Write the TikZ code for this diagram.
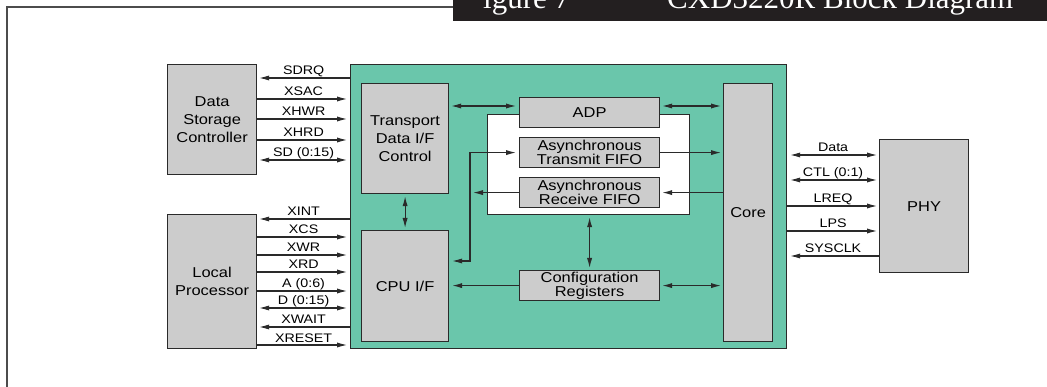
\documentclass[tikz,border=0pt]{standalone}
\usepackage{fontspec}
\usetikzlibrary{arrows.meta}
\newfontfamily\lbl[FakeStretch=1.15]{Liberation Sans}
\newfontfamily\ttlfont{Liberation Serif}
\definecolor{boxgrey}{HTML}{CCCCCC}
\definecolor{teal1}{HTML}{6AC6AB}
\definecolor{ln}{HTML}{2A2A2A}
\definecolor{barblack}{HTML}{231F20}
\tikzset{
  gbox/.style={draw=ln, fill=boxgrey, line width=1.2pt, inner sep=0pt, anchor=north west, align=center,
    font={\lbl\fontsize{14.3}{18}\selectfont}},
  tightbox/.style={gbox, font={\lbl\fontsize{14.3}{12.5}\selectfont}},
  sig/.style={draw=ln, line width=1.1pt},
  lab/.style={anchor=base, yshift=3pt, inner sep=0pt, font={\lbl\fontsize{12.4}{14}\selectfont}},
  >={Latex[length=10pt,width=5.2pt]}
}
\begin{document}
\begin{tikzpicture}[x=1pt,y=-1pt]
\useasboundingbox (0,0) rectangle (1047,387);
% frame
\draw[draw=black!70, line width=2pt] (7,387) -- (7,7) -- (453,7);
\fill[barblack] (453,-5) rectangle (1047,21);
\node[anchor=base west, text=white, inner sep=0pt, font={\ttlfont\fontsize{31}{34}\selectfont}] (t1) at (483,9) {igure 7};
\node[anchor=base west, text=white, inner sep=0pt, font={\ttlfont\fontsize{31}{34}\selectfont}] (t2) at (667,9) {CXD3220R Block Diagram};

% outer blocks
\node[gbox, minimum width=89pt, minimum height=110pt] (dsc) at (167,64) {Data\\Storage\\Controller};
\node[gbox, minimum width=89pt, minimum height=134pt] (lp) at (167,214) {Local\\Processor};
\node[gbox, minimum width=89pt, minimum height=133pt] (phy) at (879,139) {PHY};

% teal chip
\node[draw=ln, fill=teal1, line width=1.2pt, inner sep=0pt, anchor=north west, minimum width=436pt, minimum height=284pt] (teal) at (350,64) {};
\node[draw=ln, fill=white, line width=1.2pt, inner sep=0pt, anchor=north west, minimum width=202pt, minimum height=100pt] (wb) at (487,114) {};

\node[gbox, minimum width=87pt, minimum height=110pt] (tdc) at (361,83) {Transport\\Data I/F\\Control};
\node[gbox, minimum width=87pt, minimum height=111pt] (cpu) at (361,230) {CPU I/F};
\node[gbox, minimum width=140pt, minimum height=30pt] (adp) at (519,97) {ADP};
\node[tightbox, minimum width=140pt, minimum height=30pt] (tx) at (519,137) {Asynchronous\\Transmit FIFO};
\node[tightbox, minimum width=140pt, minimum height=30pt] (rx) at (519,177) {Asynchronous\\Receive FIFO};
\node[tightbox, minimum width=140pt, minimum height=30pt] (cfg) at (519,270) {Configuration\\Registers};
\node[gbox, minimum width=49pt, minimum height=258pt] (core) at (723,83) {Core};

% left signals: data storage controller
\draw[sig, <-, shorten <=2pt] (dsc.east|-0,78) -- (teal.west|-0,78) node[lab, midway] {SDRQ};
\draw[sig, ->, shorten >=3pt] (dsc.east|-0,99) -- (teal.west|-0,99) node[lab, midway] {XSAC};
\draw[sig, ->, shorten >=3pt] (dsc.east|-0,119) -- (teal.west|-0,119) node[lab, midway] {XHWR};
\draw[sig, ->, shorten >=3pt] (dsc.east|-0,140) -- (teal.west|-0,140) node[lab, midway] {XHRD};
\draw[sig, <->, shorten <=2pt, shorten >=3pt] (dsc.east|-0,160) -- (teal.west|-0,160) node[lab, midway] {SD (0:15)};

% left signals: local processor
\draw[sig, <-, shorten <=2pt] (lp.east|-0,219) -- (teal.west|-0,219) node[lab, midway] {XINT};
\draw[sig, ->, shorten >=3pt] (lp.east|-0,237) -- (teal.west|-0,237) node[lab, midway] {XCS};
\draw[sig, ->, shorten >=3pt] (lp.east|-0,255) -- (teal.west|-0,255) node[lab, midway] {XWR};
\draw[sig, ->, shorten >=3pt] (lp.east|-0,272) -- (teal.west|-0,272) node[lab, midway] {XRD};
\draw[sig, ->, shorten >=3pt] (lp.east|-0,291) -- (teal.west|-0,291) node[lab, midway] {A (0:6)};
\draw[sig, <->, shorten <=2pt, shorten >=3pt] (lp.east|-0,308) -- (teal.west|-0,308) node[lab, midway] {D (0:15)};
\draw[sig, <-, shorten <=2pt] (lp.east|-0,327) -- (teal.west|-0,327) node[lab, midway] {XWAIT};
\draw[sig, ->, shorten >=3pt] (lp.east|-0,345) -- (teal.west|-0,345) node[lab, midway] {XRESET};

% internal
\draw[sig, <->, shorten <=2pt, shorten >=3pt] (tdc.east|-0,106) -- (adp.west|-0,106);
\draw[sig, <->, shorten <=2pt, shorten >=2pt] (adp.east|-0,106) -- (core.west|-0,106);
\draw[sig, ->, shorten >=2pt] (tx.east) -- (core.west|-tx.east);
\draw[sig, ->, shorten >=2pt] (core.west|-rx.east) -- (rx.east);
\coordinate (bb) at (470,261);
\draw[sig, ->, shorten >=3pt] (rx.west) -- (bb|-rx.west);
\draw[sig, <->, shorten <=3pt, shorten >=3pt] (cpu.east|-bb) -- (bb) |- (tx.west);
\draw[sig, <->, shorten <=2pt, shorten >=2pt] (tdc.south) -- (cpu.north);
\draw[sig, <->, shorten <=2pt, shorten >=2pt] (wb.south-|cfg.north) -- (cfg.north);
\draw[sig, ->, shorten >=3pt] (cfg.west) -- (cpu.east|-cfg.west);
\draw[sig, <->, shorten <=2pt, shorten >=2pt] (cfg.east) -- (core.west|-cfg.east);

% right signals
\draw[sig, <->, shorten <=3pt, shorten >=2pt] (teal.east|-0,155) -- (phy.west|-0,155) node[lab, midway] {Data};
\draw[sig, <->, shorten <=3pt, shorten >=2pt] (teal.east|-0,180) -- (phy.west|-0,180) node[lab, midway] {CTL (0:1)};
\draw[sig, ->, shorten >=2pt] (teal.east|-0,206) -- (phy.west|-0,206) node[lab, midway] {LREQ};
\draw[sig, ->, shorten >=2pt] (teal.east|-0,231) -- (phy.west|-0,231) node[lab, midway] {LPS};
\draw[sig, <-, shorten <=3pt] (teal.east|-0,256) -- (phy.west|-0,256) node[lab, midway] {SYSCLK};
\end{tikzpicture}
\end{document}
